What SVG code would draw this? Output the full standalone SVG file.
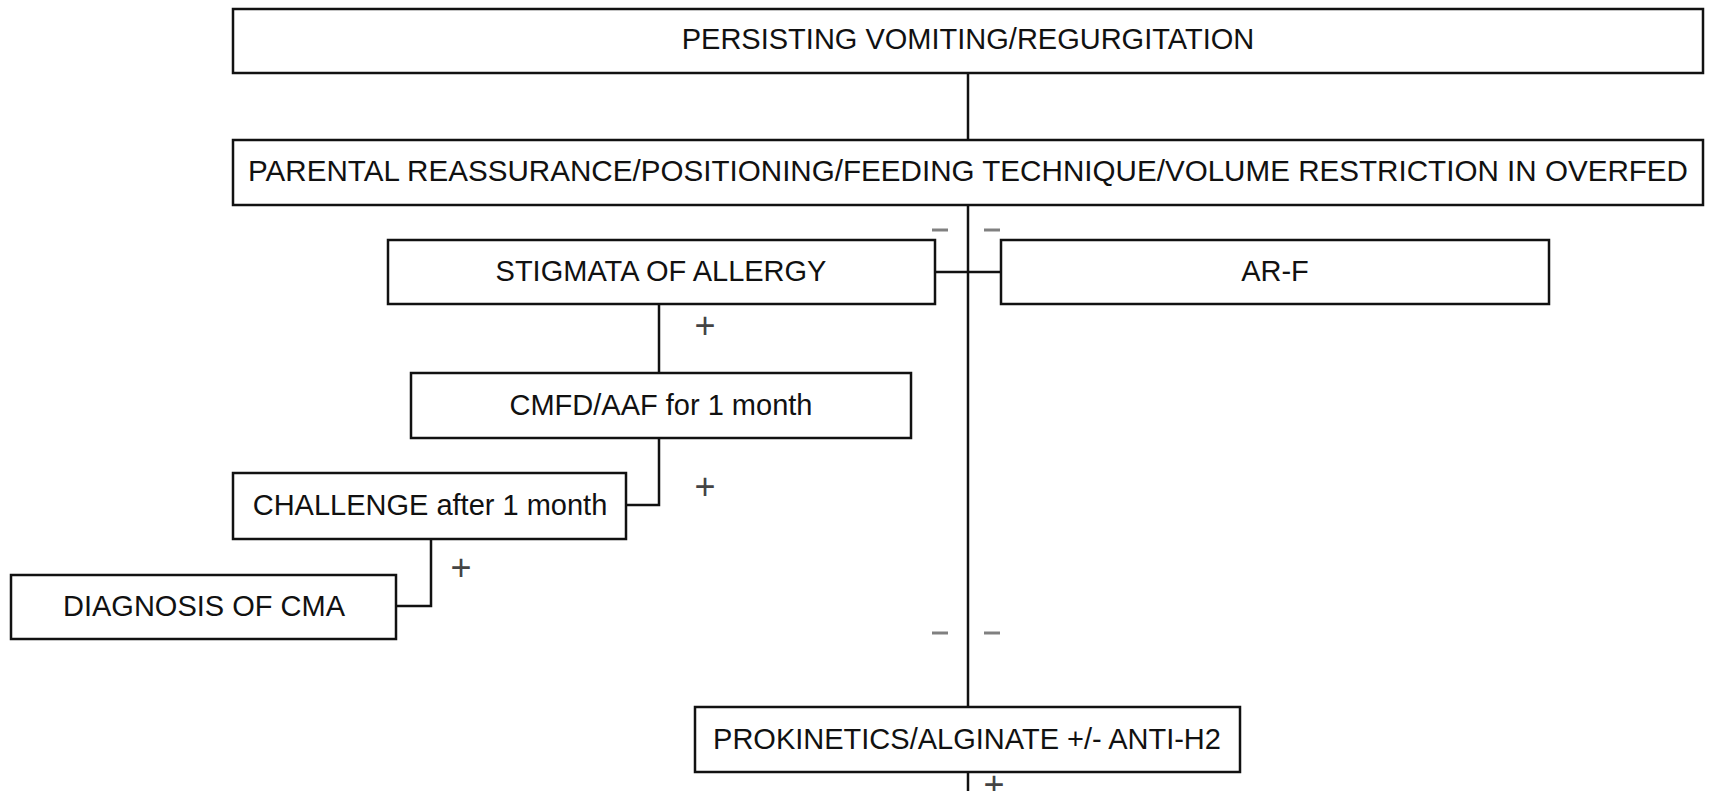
<svg xmlns="http://www.w3.org/2000/svg" width="1710" height="791" viewBox="0 0 1710 791">
<style>
.box{fill:#fff;stroke:#111;stroke-width:2.5}
.lbl{font-family:"Liberation Sans",Arial,sans-serif;font-size:29px;fill:#111;text-anchor:middle}
.ln{stroke:#111;stroke-width:2.5;fill:none}
.plus{font-family:"Liberation Sans",Arial,sans-serif;font-size:36px;fill:#444;text-anchor:middle}
.minus{stroke:#808080;stroke-width:3}
</style>
<rect width="1710" height="791" fill="#fff"/>
<g id="connectors">
<line class="ln" x1="968" y1="73" x2="968" y2="140"/>
<line class="ln" x1="968" y1="205" x2="968" y2="707"/>
<line class="ln" x1="968" y1="772" x2="968" y2="791"/>
<line class="ln" x1="935" y1="272" x2="1001" y2="272"/>
<line class="ln" x1="659" y1="304" x2="659" y2="373"/>
<polyline class="ln" points="659,438 659,505 626,505"/>
<polyline class="ln" points="431,539 431,606 396,606"/>
<line class="minus" x1="932" y1="230" x2="948" y2="230"/>
<line class="minus" x1="984" y1="230" x2="1000" y2="230"/>
<line class="minus" x1="932" y1="633" x2="948" y2="633"/>
<line class="minus" x1="984" y1="633" x2="1000" y2="633"/>
<text class="plus" x="705" y="338">+</text>
<text class="plus" x="705" y="499">+</text>
<text class="plus" x="461" y="580">+</text>
<text class="plus" x="994" y="797">+</text>
</g>
<g id="n1"><rect class="box" x="233" y="9" width="1470" height="64"/><text class="lbl" x="968" y="49">PERSISTING VOMITING/REGURGITATION</text></g>
<g id="n2"><rect class="box" x="233" y="140" width="1470" height="65"/><text class="lbl" x="968" y="181" textLength="1440" lengthAdjust="spacingAndGlyphs">PARENTAL REASSURANCE/POSITIONING/FEEDING TECHNIQUE/VOLUME RESTRICTION IN OVERFED</text></g>
<g id="n3"><rect class="box" x="388" y="240" width="547" height="64"/><text class="lbl" x="661" y="281">STIGMATA OF ALLERGY</text></g>
<g id="n4"><rect class="box" x="1001" y="240" width="548" height="64"/><text class="lbl" x="1275" y="281">AR-F</text></g>
<g id="n5"><rect class="box" x="411" y="373" width="500" height="65"/><text class="lbl" x="661" y="415">CMFD/AAF for 1 month</text></g>
<g id="n6"><rect class="box" x="233" y="473" width="393" height="66"/><text class="lbl" x="430" y="515">CHALLENGE after 1 month</text></g>
<g id="n7"><rect class="box" x="11" y="575" width="385" height="64"/><text class="lbl" x="204" y="616">DIAGNOSIS OF CMA</text></g>
<g id="n8"><rect class="box" x="695" y="707" width="545" height="65"/><text class="lbl" x="967" y="749">PROKINETICS/ALGINATE +/- ANTI-H2</text></g>
</svg>
